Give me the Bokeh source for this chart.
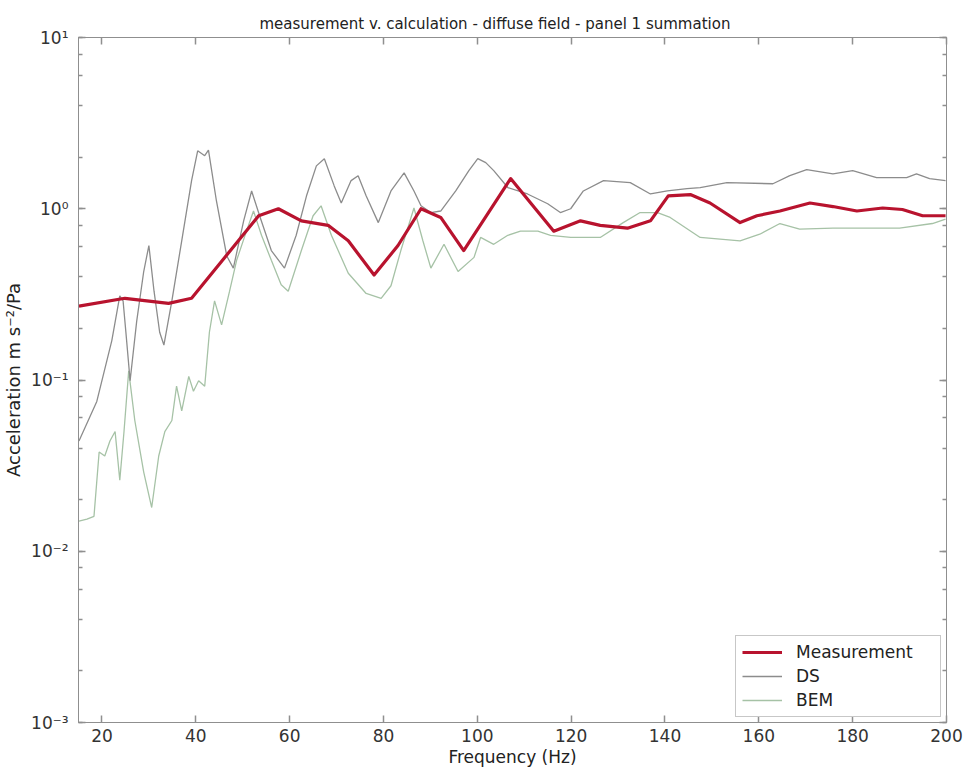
from bokeh.plotting import figure
from bokeh.models import (LinearAxis, LogAxis, FixedTicker, LogTicker,
                          CustomJSTickFormatter, Range1d, Legend, LegendItem)
from bokeh.embed import file_html
from bokeh.resources import INLINE

# ---- data ----
meas_f = [15.1, 24.9, 34.2, 39.1, 53.4, 57.6, 62.5, 68.2, 72.5, 78.0, 83.1, 88.0,
          92.2, 97.1, 107.1, 116.3, 122.0, 126.2, 132.0, 136.9, 140.7, 145.4, 149.6,
          156.0, 159.6, 164.5, 170.9, 175.8, 180.9, 186.4, 190.6, 194.9, 199.8]
meas_v = [0.27, 0.30, 0.28, 0.30, 0.91, 1.00, 0.85, 0.80, 0.65, 0.41, 0.61, 1.00,
          0.89, 0.57, 1.50, 0.74, 0.85, 0.80, 0.77, 0.85, 1.19, 1.21, 1.08,
          0.83, 0.91, 0.97, 1.08, 1.03, 0.97, 1.01, 0.99, 0.91, 0.91]

ds_f = [15.1, 18.9, 22.1, 23.8, 24.5, 25.1, 26.0, 27.4, 28.9, 30.0, 31.1, 32.3,
        33.2, 34.9, 37.0, 39.1, 40.4, 41.9, 42.7, 44.4, 46.6, 48.0, 50.2, 51.9,
        53.6, 56.1, 58.9, 61.4, 63.6, 65.7, 67.4, 69.5, 71.0, 73.1, 74.6, 76.3,
        78.9, 81.6, 84.4, 86.5, 88.0, 90.1, 92.2, 95.4, 98.2, 100.1, 101.8, 103.5,
        106.5, 110.7, 115.0, 117.7, 119.9, 122.6, 126.9, 132.6, 136.9, 140.5,
        144.7, 147.5, 153.2, 163.0, 166.6, 170.2, 175.8, 180.0, 185.1, 191.5,
        193.6, 196.4, 199.8]
ds_v = [0.044, 0.075, 0.17, 0.31, 0.29, 0.19, 0.099, 0.22, 0.43, 0.61, 0.33, 0.19,
        0.16, 0.29, 0.65, 1.46, 2.18, 2.04, 2.20, 1.11, 0.53, 0.45, 0.85, 1.27,
        0.91, 0.57, 0.45, 0.70, 1.19, 1.78, 1.96, 1.36, 1.08, 1.46, 1.56, 1.19,
        0.83, 1.27, 1.62, 1.27, 1.04, 0.95, 0.97, 1.27, 1.67, 1.96, 1.86, 1.67,
        1.33, 1.22, 1.07, 0.95, 1.00, 1.27, 1.46, 1.42, 1.22, 1.27,
        1.31, 1.33, 1.42, 1.40, 1.56, 1.69, 1.60, 1.67, 1.52, 1.52,
        1.60, 1.50, 1.46]

bem_f = [15.1, 16.8, 18.3, 19.4, 20.6, 21.7, 22.8, 23.8, 24.7, 25.7, 27.0, 28.9,
         30.6, 32.1, 33.4, 34.9, 35.9, 37.0, 38.5, 39.5, 40.6, 41.9, 42.9, 44.0,
         45.5, 47.2, 48.7, 50.8, 52.3, 54.0, 56.1, 58.2, 59.7, 62.5, 65.0, 66.7,
         68.9, 72.5, 76.3, 79.5, 81.6, 83.7, 86.5, 88.4, 90.1, 92.9, 95.9, 99.3,
         100.7, 103.5, 106.5, 109.2, 112.9, 115.6, 119.9, 126.2, 131.1, 134.7,
         138.4, 141.1, 147.5, 156.0, 160.2, 164.5, 168.7, 175.8, 183.0, 190.0,
         197.0, 199.8]
bem_v = [0.015, 0.0154, 0.016, 0.038, 0.036, 0.044, 0.050, 0.026, 0.050, 0.113, 0.058, 0.029,
         0.018, 0.036, 0.050, 0.058, 0.092, 0.066, 0.105, 0.086, 0.099, 0.092, 0.19, 0.29,
         0.21, 0.33, 0.50, 0.74, 0.97, 0.70, 0.50, 0.36, 0.33, 0.57, 0.91, 1.04,
         0.70, 0.42, 0.32, 0.30, 0.355, 0.57, 1.01, 0.65, 0.45, 0.62, 0.43, 0.52,
         0.68, 0.62, 0.70, 0.74, 0.74, 0.70, 0.68, 0.68, 0.83, 0.95,
         0.95, 0.89, 0.68, 0.65, 0.71, 0.82, 0.76, 0.77, 0.77, 0.77,
         0.82, 0.87]

x_ticks = [20, 40, 60, 80, 100, 120, 140, 160, 180, 200]

title_text = "measurement v. calculation - diffuse field - panel 1 summation"
x_label = "Frequency (Hz)"
y_label = "Acceleration m s\u207b\u00b2/Pa"

FONT = "DejaVu Sans"
AXIS_COL = "#8f8f8f"
TEXT_COL = "#222222"

p = figure(width=963, height=779, x_range=Range1d(15, 200), y_range=Range1d(1e-3, 10),
           y_axis_type="log", output_backend="svg", toolbar_location=None,
           min_border_left=77, min_border_right=17, min_border_top=37, min_border_bottom=57)

p.title.text = title_text
p.title.align = "left"
p.title.offset = 181
p.title.text_font = FONT
p.title.text_font_size = "15px"
p.title.text_font_style = "normal"
p.title.text_color = TEXT_COL

p.xgrid.visible = False
p.ygrid.visible = False
p.outline_line_color = AXIS_COL
p.background_fill_color = "white"
p.border_fill_color = "white"

sup_fmt = CustomJSTickFormatter(code="""
const e = Math.round(Math.log10(tick));
const sup = {'-':'\u207b','0':'\u2070','1':'\u00b9','2':'\u00b2','3':'\u00b3'};
return '10' + String(e).split('').map(c => sup[c]).join('');
""")
blank_fmt = CustomJSTickFormatter(code="return '';")

def style_axis(ax, minor=True):
    ax.axis_line_color = AXIS_COL
    ax.major_tick_line_color = AXIS_COL
    ax.major_tick_line_width = 1.5
    ax.major_tick_in = 7
    ax.major_tick_out = 0
    if minor:
        ax.minor_tick_line_color = AXIS_COL
        ax.minor_tick_line_width = 1.5
        ax.minor_tick_in = 4
        ax.minor_tick_out = 0
    else:
        ax.minor_tick_line_color = None
    ax.major_label_text_font = FONT
    ax.major_label_text_font_size = "17px"
    ax.major_label_text_color = "#333333"
    ax.axis_label_text_font = FONT
    ax.axis_label_text_font_style = "normal"
    ax.axis_label_text_color = TEXT_COL

xa = p.xaxis[0]
xa.ticker = FixedTicker(ticks=x_ticks)
xa.axis_label = x_label
xa.axis_label_text_font_size = "17px"
xa.major_label_standoff = 6
xa.axis_label_standoff = 2
style_axis(xa, minor=False)

ya = p.yaxis[0]
ya.ticker = LogTicker(desired_num_ticks=5)
ya.formatter = sup_fmt
ya.axis_label = y_label
ya.axis_label_text_font_size = "18px"
ya.major_label_standoff = 10
ya.axis_label_standoff = 4
style_axis(ya, minor=True)

top = LinearAxis(ticker=FixedTicker(ticks=x_ticks), formatter=blank_fmt)
style_axis(top, minor=False)
top.major_label_text_font_size = "1px"
top.major_label_standoff = 0
p.add_layout(top, "above")

right = LogAxis(ticker=LogTicker(desired_num_ticks=5), formatter=blank_fmt)
style_axis(right, minor=True)
right.major_label_text_font_size = "1px"
right.major_label_standoff = 0
p.add_layout(right, "right")

r_bem = p.line(bem_f, bem_v, line_color="#a6c2a6", line_width=1.3)
r_ds = p.line(ds_f, ds_v, line_color="#8c8c8c", line_width=1.3)
r_meas = p.line(meas_f, meas_v, line_color="#b8132e", line_width=3.2, line_join="round")

legend = Legend(items=[LegendItem(label="Measurement", renderers=[r_meas]),
                       LegendItem(label="DS", renderers=[r_ds]),
                       LegendItem(label="BEM", renderers=[r_bem])],
                location="bottom_right")
legend.label_text_font = FONT
legend.label_text_font_size = "17px"
legend.label_text_color = TEXT_COL
legend.border_line_color = AXIS_COL
legend.border_line_width = 1.5
legend.background_fill_alpha = 1.0
legend.glyph_width = 40
legend.glyph_height = 20
legend.label_height = 20
legend.label_width = 138
legend.label_standoff = 14
legend.spacing = 4
legend.padding = 6
legend.margin = 5
p.add_layout(legend, "center")

open("out.html", "w").write(file_html(p, INLINE))
